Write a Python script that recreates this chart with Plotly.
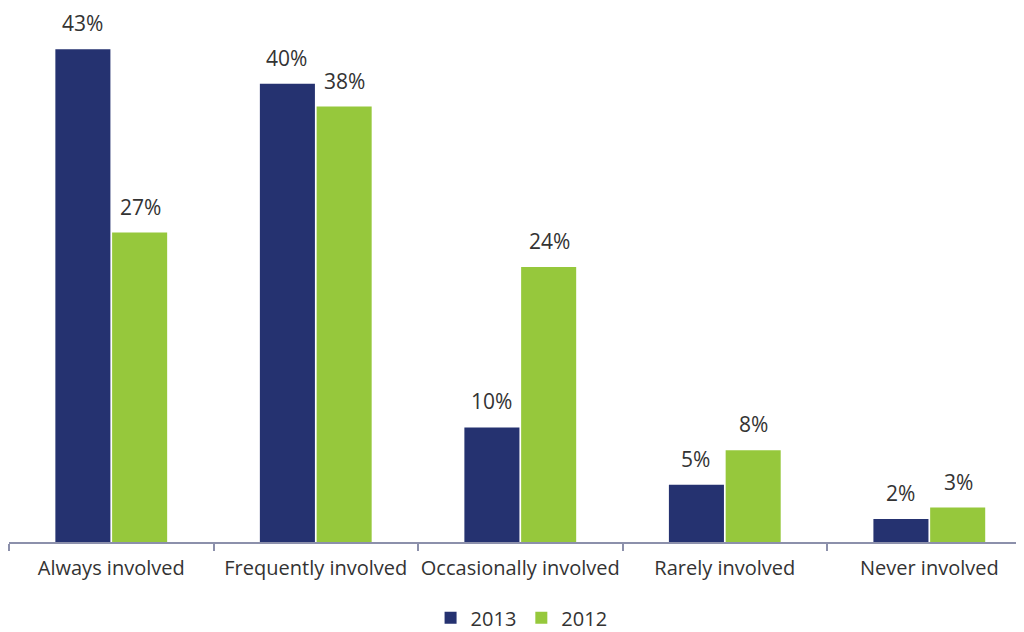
import plotly.graph_objects as go

# Dados do gráfico
categorias = ["Always involved", "Frequently involved", "Occasionally involved",
              "Rarely involved", "Never involved"]
valores_2013 = [43, 40, 10, 5, 2]
valores_2012 = [27, 38, 24, 8, 3]

COR_2013 = "#253270"
COR_2012 = "#96c83c"
FONTE = "Open Sans"

fig = go.Figure()
fig.add_trace(go.Bar(x=categorias, y=valores_2013, name="2013",
                     marker_color=COR_2013, marker_line_width=0))
fig.add_trace(go.Bar(x=categorias, y=valores_2012, name="2012",
                     marker_color=COR_2012, marker_line_width=0))

# Rótulos de valor acima das barras
for serie, deslocamento in ((valores_2013, -29), (valores_2012, 29)):
    for cat, v in zip(categorias, serie):
        fig.add_annotation(x=cat, y=v, text=f"{v}%", showarrow=False,
                           xshift=deslocamento, yanchor="bottom", yshift=10,
                           font=dict(family=FONTE, size=21, color="#333333"))

# a página tem margem de 8px no body, por isso as margens são compensadas
fig.update_layout(
    width=1024, height=632,
    margin=dict(l=1, r=8, t=0, b=98, autoexpand=False),
    barmode="group", bargap=0.445, bargroupgap=0.03,
    paper_bgcolor="white", plot_bgcolor="white",
    font=dict(family=FONTE, size=20, color="#333333"),
    legend=dict(orientation="h", x=0.505, xanchor="center", y=-0.142,
                yanchor="middle", font=dict(size=20), itemwidth=30),
    showlegend=True,
)
fig.update_xaxes(range=[-0.5, 4.463], showline=True, linecolor="#8c90ab",
                 linewidth=2, ticks="outside", tickson="boundaries",
                 ticklen=7, tickcolor="#8c90ab", tickwidth=2, automargin=False,
                 ticklabelstandoff=7, tickangle=0,
                 tickfont=dict(size=20, color="#333333"))
fig.update_yaxes(range=[0, 46.6], visible=False, showgrid=False)

fig.write_html("out.html")
